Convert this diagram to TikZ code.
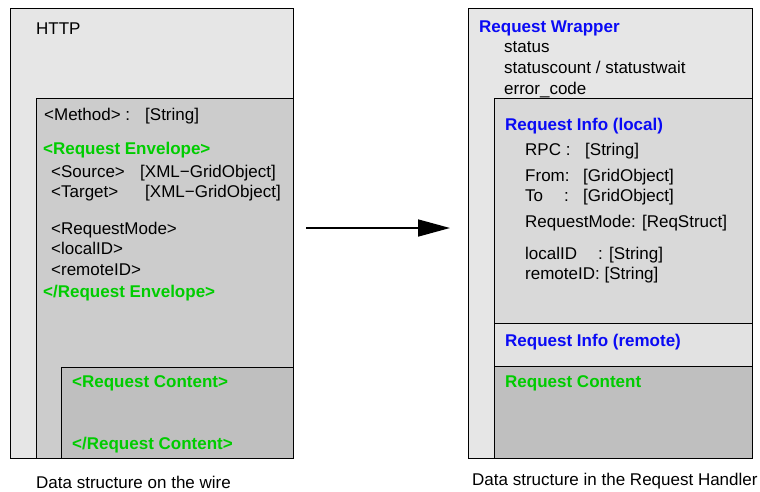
\documentclass[tikz,border=0pt]{standalone}
\usepackage{fontspec}
\setmainfont{Liberation Sans}
\usetikzlibrary{arrows.meta}
\definecolor{tagGreen}{RGB}{0,204,0}
\definecolor{hdrBlue}{RGB}{10,10,245}
\definecolor{outerGray}{HTML}{E6E6E6}
\definecolor{innerGray}{HTML}{CCCCCC}
\definecolor{contentGray}{HTML}{BFBFBF}
\definecolor{localGray}{HTML}{D9D9D9}
\definecolor{remoteGray}{HTML}{E2E2E2}
\begin{document}
\begin{tikzpicture}[x=1pt,y=-1pt,
  txt/.style={anchor=base west, inner sep=0pt, font=\fontsize{17}{20}\selectfont},
  gtag/.style={txt, text=tagGreen, font=\fontsize{17}{20}\selectfont\bfseries},
  btag/.style={txt, text=hdrBlue, font=\fontsize{17}{20}\selectfont\bfseries},
  panel/.style={draw=black, line width=0.8pt},
  flow/.style={line width=1.6pt, -{Triangle[length=32pt,width=17pt]}}]
\useasboundingbox (0,0) rectangle (760,491);

% ---------- wire format (left) ----------
\draw[panel, fill=outerGray]   (10,8)   rectangle (293,458);
\draw[panel, fill=innerGray]   (36,98)  rectangle (293,458);
\draw[panel, fill=contentGray] (61,367) rectangle (293,458);

\node[txt]  (http)    at (36,34)   {HTTP};
\node[txt]  (meth)    at (44,120)  {<Method> :};
\node[txt]  (methT)   at (145,120) {[String]};
\node[gtag] (envO)    at (43,154)  {<Request Envelope>};
\node[txt]  (src)     at (51,177)  {<Source>};
\node[txt]  (srcT)    at (140,177) {[XML−GridObject]};
\node[txt]  (tgt)     at (51,197)  {<Target>};
\node[txt]  (tgtT)    at (145,197) {[XML−GridObject]};
\node[txt]  (rmode)   at (51,234)  {<RequestMode>};
\node[txt]  (lid)     at (51,254)  {<localID>};
\node[txt]  (rid)     at (51,275)  {<remoteID>};
\node[gtag] (envC)    at (43,297)  {</Request Envelope>};
\node[gtag] (contO)   at (72,387)  {<Request Content>};
\node[gtag] (contC)   at (72,449)  {</Request Content>};
\node[txt]  (capL)    at (36,488)  {Data structure on the wire};

% ---------- handler structure (right) ----------
\draw[panel, fill=outerGray]   (468,8)   rectangle (752,458);
\draw[panel, fill=localGray]   (494,98)  rectangle (752,323);
\draw[panel, fill=remoteGray]  (494,323) rectangle (752,366);
\draw[panel, fill=contentGray] (494,366) rectangle (752,458);

\node[btag] (wrap)    at (479,32)  {Request Wrapper};
\node[txt]  (stat)    at (504,52)  {status};
\node[txt]  (statc)   at (504,73)  {statuscount / statustwait};
\node[txt]  (err)     at (504,94)  {error\_code};
\node[btag] (infoL)   at (505,130) {Request Info (local)};
\node[txt]  (rpc)     at (525,155) {RPC :};
\node[txt]  (rpcT)    at (585,155) {[String]};
\node[txt]  (from)    at (525,181) {From:};
\node[txt]  (fromT)   at (583,181) {[GridObject]};
\node[txt]  (to)      at (525,201) {To};
\node[txt]  (toC)     at (564,201) {:};
\node[txt]  (toT)     at (583,201) {[GridObject]};
\node[txt]  (rqm)     at (525,227) {RequestMode: [ReqStruct]};
\node[txt]  (lidR)    at (525,259) {localID};
\node[txt]  (lidRT)   at (598,259) {: [String]};
\node[txt]  (ridR)    at (525,279) {remoteID: [String]};
\node[btag] (infoR)   at (505,346) {Request Info (remote)};
\node[gtag] (contR)   at (505,387) {Request Content};
\node[txt]  (capR)    at (472,485) {Data structure in the Request Handler};

% ---------- conversion arrow ----------
\coordinate (arrS) at (306,228);
\coordinate (arrE) at (450,228);
\draw[flow] (arrS) -- (arrE);
\end{tikzpicture}
\end{document}
